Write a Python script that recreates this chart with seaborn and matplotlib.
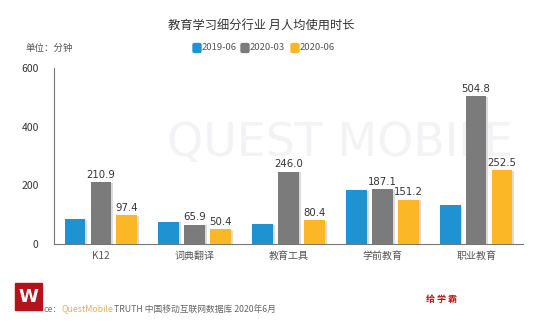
import matplotlib
matplotlib.use("Agg")
import matplotlib.pyplot as plt
import seaborn as sns
import pandas as pd
from matplotlib.patches import FancyBboxPatch, Rectangle

categories = ["K12", "词典翻译", "教育工具", "学前教育", "职业教育"]
series = ["2019-06", "2020-03", "2020-06"]
v2019_06 = [85.0, 76.0, 68.0, 184.0, 133.0]
v2020_03 = [210.9, 65.9, 246.0, 187.1, 504.8]
v2020_06 = [97.4, 50.4, 80.4, 151.2, 252.5]
labels_2020_03 = ["210.9", "65.9", "246.0", "187.1", "504.8"]
labels_2020_06 = ["97.4", "50.4", "80.4", "151.2", "252.5"]
yticks = [0, 200, 400, 600]
colors = ["#1F93D2", "#7B7B7B", "#FBB726"]

sns.set_theme(style="white")
plt.rcParams['font.family'] = ['Noto Sans CJK SC', 'DejaVu Sans']

rows = []
for c, a, b, d in zip(categories, v2019_06, v2020_03, v2020_06):
    rows += [(c, series[0], a), (c, series[1], b), (c, series[2], d)]
df = pd.DataFrame(rows, columns=["cat", "period", "val"])

fig = plt.figure(figsize=(5.5, 3.23), dpi=100)
ax = fig.add_axes([54/550, 1 - 244/323, 469/550, 176/323])

sns.barplot(data=df, x="cat", y="val", hue="period", palette=colors,
            width=0.83, gap=0.2, ax=ax, legend=False, saturation=1,
            edgecolor="none", zorder=3)

# shadows
for p in list(ax.patches):
    x, y = p.get_x(), p.get_y()
    w, h = p.get_width(), p.get_height()
    ax.add_patch(Rectangle((x + 0.02, y), w, h - 2, color="#dcdcdc", zorder=2, lw=0))

# watermark (behind bars)
ax.text(340/550, 1 - 143/323, "QUEST MOBILE", fontsize=33, color="#f3f3f5", ha="center",
        va="center", family="DejaVu Sans", zorder=0.5, transform=fig.transFigure)

ax.set_xlim(-0.5, 4.5)
ax.set_ylim(0, 600)
ax.set_yticks(yticks)
ax.set_xlabel("")
ax.set_ylabel("")
ax.tick_params(axis="y", labelsize=7.5, colors="#333333", length=0, pad=11)
ax.tick_params(axis="x", labelsize=7.2, colors="#555555", length=0, pad=5)
for s in ["top", "right"]:
    ax.spines[s].set_visible(False)
for s in ["left", "bottom"]:
    ax.spines[s].set_color("#777777")
    ax.spines[s].set_linewidth(0.8)
ax.patch.set_alpha(0)

n = len(categories)
bars03 = ax.patches[n:2*n]
bars06 = ax.patches[2*n:3*n]
for p, t in zip(bars03, labels_2020_03):
    ax.text(p.get_x() + p.get_width()/2, p.get_height() + 8, t, ha="center",
            va="bottom", fontsize=7.3, color="#333333", family="DejaVu Sans", zorder=5)
for p, t in zip(bars06, labels_2020_06):
    ax.text(p.get_x() + p.get_width()/2, p.get_height() + 8, t, ha="center",
            va="bottom", fontsize=7.3, color="#333333", family="DejaVu Sans", zorder=5)

fig.text(261/550, 1 - 25/323, "教育学习细分行业 月人均使用时长", ha="center", va="center",
         fontsize=8.8, color="#333333")
fig.text(25/550, 1 - 48/323, "单位：分钟", ha="left", va="center", fontsize=6.8, color="#555555")

# legend
lx = [193, 241, 291]
for x0, s, c in zip(lx, series, colors):
    fig.patches.append(FancyBboxPatch((x0/550, 1 - 52.5/323), 8/550, 9/323,
                                      boxstyle="round,pad=0,rounding_size=0.004",
                                      transform=fig.transFigure, color=c))
    fig.text((x0 + 8.5)/550, 1 - 48/323, s, ha="left", va="center", fontsize=6.8,
             color="#555555")

# footer
fig.patches.append(Rectangle((15/550, 1 - 310/323), 27/550, 27/323,
                             transform=fig.transFigure, color="#B5121B"))
fig.text(28.5/550, 1 - 296.5/323, "W", ha="center", va="center", fontsize=13,
         color="white", fontweight="bold", family="DejaVu Sans")
fig.text(44/550, 1 - 309/323, "ce：", ha="left", va="center", fontsize=6.3, color="#777777")
fig.text(61/550, 1 - 309/323, "QuestMobile", ha="left", va="center", fontsize=6.3, color="#E0B060")
fig.text(114/550, 1 - 309/323, "TRUTH 中国移动互联网数据库 2020年6月", ha="left", va="center",
         fontsize=6.3, color="#666666")
fig.text(442/550, 1 - 299/323, "给 学 霸", ha="center", va="center", fontsize=6.5,
         color="#C0121B", fontweight="bold")

fig.savefig("out.png", dpi=100)
